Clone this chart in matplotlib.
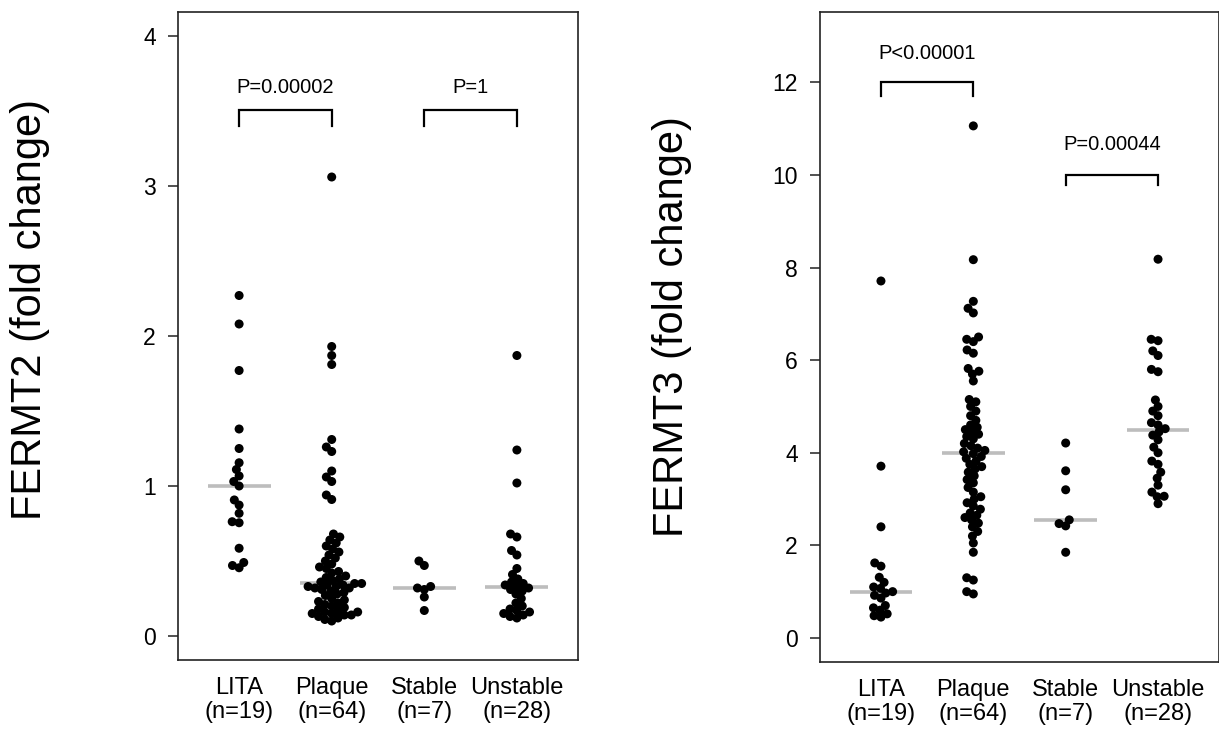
import numpy as np
import matplotlib.pyplot as plt

plt.rcParams['font.family'] = ['Liberation Sans', 'DejaVu Sans']

groups = ['LITA', 'Plaque', 'Stable', 'Unstable']
group_n = [19, 64, 7, 28]

# FERMT2 fold change per group
fermt2_lita = [2.27, 2.08, 1.77, 1.38, 1.25, 1.155, 1.11, 1.067, 1.03, 1.0,
               0.907, 0.873, 0.818, 0.762, 0.755, 0.585, 0.49, 0.47, 0.455]
fermt2_plaque = [3.06, 1.93, 1.87, 1.81, 1.31, 1.26, 1.23, 1.10, 1.06, 1.03, 0.94, 0.91,
                 0.68, 0.66, 0.64, 0.62, 0.60, 0.58, 0.56, 0.54, 0.52, 0.50,
                 0.48, 0.46, 0.45, 0.43, 0.42, 0.40, 0.39, 0.38, 0.37, 0.36,
                 0.35, 0.35, 0.34, 0.34, 0.33, 0.33, 0.32, 0.32, 0.31, 0.30,
                 0.29, 0.28, 0.27, 0.25, 0.24, 0.23, 0.22, 0.21, 0.20, 0.19,
                 0.18, 0.17, 0.16, 0.16, 0.15, 0.15, 0.14, 0.14, 0.13, 0.12, 0.11, 0.10]
fermt2_stable = [0.50, 0.47, 0.33, 0.32, 0.31, 0.26, 0.17]
fermt2_unstable = [1.87, 1.24, 1.02, 0.68, 0.66, 0.57, 0.54, 0.45, 0.41, 0.38, 0.36, 0.35, 0.34, 0.33,
                   0.32, 0.31, 0.30, 0.28, 0.25, 0.22, 0.20, 0.18, 0.17, 0.16, 0.15, 0.14, 0.13, 0.12]

# FERMT3 fold change per group
fermt3_lita = [7.71, 3.71, 2.40, 1.62, 1.55, 1.31, 1.20, 1.10, 1.07, 1.00,
               0.97, 0.92, 0.86, 0.70, 0.65, 0.60, 0.52, 0.48, 0.45]
fermt3_plaque = [11.06, 8.17, 7.27, 7.12, 7.02, 6.50, 6.45, 6.40, 6.22, 6.15, 5.82, 5.76, 5.70, 5.55,
                 5.15, 5.10, 5.00, 4.90, 4.80, 4.70, 4.60, 4.55, 4.50, 4.45, 4.40, 4.35, 4.30, 4.20,
                 4.15, 4.10, 4.05, 4.02,
                 3.98, 3.92, 3.88, 3.82, 3.75, 3.70, 3.65, 3.58, 3.50, 3.42, 3.35, 3.25, 3.15, 3.05,
                 3.00, 2.92, 2.85, 2.78, 2.70, 2.65, 2.60, 2.55, 2.48, 2.40, 2.30, 2.20, 2.05, 1.85,
                 1.30, 1.25, 1.00, 0.95]
fermt3_stable = [4.21, 3.61, 3.20, 2.55, 2.47, 2.42, 1.85]
fermt3_unstable = [8.18, 6.45, 6.42, 6.20, 6.10, 5.80, 5.75, 5.14, 5.00, 4.90, 4.80, 4.65, 4.60, 4.52,
                   4.45, 4.38, 4.28, 4.12, 4.00, 3.82, 3.75, 3.58, 3.45, 3.30, 3.15, 3.06, 3.05, 2.90]

fermt2_pvals = ['P=0.00002', 'P=1']
fermt3_pvals = ['P<0.00001', 'P=0.00044']

DOT_PX = 9.0    # drawn dot diameter
GAP_PX = 7.0    # spacing used by the swarm (dots may overlap a little)


def swarm_offsets(y_px, diam):
    """Place points bottom-up, each at the smallest sideways shift that avoids overlap."""
    xs = np.zeros(len(y_px))
    done = []
    for i in np.argsort(y_px, kind='stable'):
        y = y_px[i]
        cands = [0.0]
        for px, py in done:
            dy = abs(y - py)
            if dy < diam:
                dx = np.sqrt(diam ** 2 - dy ** 2)
                cands += [px - dx, px + dx]
        cands.sort(key=lambda c: (abs(c), c))
        for c in cands:
            if all((c - px) ** 2 + (y - py) ** 2 >= diam ** 2 - 1e-6 for px, py in done):
                break
        xs[i] = c
        done.append((c, y))
    return xs


def draw_panel(ax, data, ymax, yticks, brackets):
    ax.set_xlim(0.34, 4.66)
    ax.set_ylim(-0.04 * ymax, 1.04 * ymax)

    # pixel scale of the axes, used to lay out the swarm
    x0, y0 = ax.transData.transform((0, 0))
    x1, y1 = ax.transData.transform((1, 1))
    sx, sy = x1 - x0, y1 - y0

    for i, vals in enumerate(data):
        vals = np.asarray(vals, dtype=float)
        off = swarm_offsets(vals * sy, GAP_PX) / sx
        ax.scatter(i + 1 + off, vals, s=(DOT_PX * 0.72) ** 2, color='black',
                   edgecolors='none', zorder=3)
        med = np.median(vals)
        ax.plot([i + 1 - 0.34, i + 1 + 0.34], [med, med], color='#bdbdbd',
                lw=2.6, solid_capstyle='butt', zorder=2)

    for (g1, g2, ytop, ylow, ytxt, label) in brackets:
        ax.plot([g1, g1, g2, g2], [ylow, ytop, ytop, ylow], color='black', lw=1.6,
                solid_joinstyle='miter', zorder=3)
        ax.text((g1 + g2) / 2, ytxt, label, ha='center', va='baseline', fontsize=14.5)

    ax.set_yticks(yticks)
    ax.set_yticklabels([str(t) for t in yticks])
    ax.set_xticks([1, 2, 3, 4])
    ax.set_xticklabels([f'{g}\n(n={n})' for g, n in zip(groups, group_n)],
                       linespacing=1.15)
    ax.tick_params(axis='y', direction='out', length=7, width=1.1, labelsize=16.5,
                   pad=9, color='#222222')
    ax.tick_params(axis='x', length=0, labelsize=17, pad=12)
    for sp in ax.spines.values():
        sp.set_linewidth(1.2)
        sp.set_color('#222222')


fig = plt.figure(figsize=(12.19, 7.29), dpi=100)
ax1 = fig.add_axes([178 / 1219, 69 / 729, 400 / 1219, 648 / 729])
ax2 = fig.add_axes([820 / 1219, 67 / 729, 399 / 1219, 650 / 729])

draw_panel(ax1, [fermt2_lita, fermt2_plaque, fermt2_stable, fermt2_unstable],
           4, [0, 1, 2, 3, 4],
           [(1, 2, 3.51, 3.40, 3.62, fermt2_pvals[0]),
            (3, 4, 3.51, 3.40, 3.62, fermt2_pvals[1])])
draw_panel(ax2, [fermt3_lita, fermt3_plaque, fermt3_stable, fermt3_unstable],
           13, [0, 2, 4, 6, 8, 10, 12],
           [(1, 2, 12.0, 11.7, 12.5, fermt3_pvals[0]),
            (3, 4, 10.0, 9.78, 10.54, fermt3_pvals[1])])

fig.text(30 / 1219, 1 - 310 / 729, 'FERMT2 (fold change)', rotation=90,
         ha='center', va='center', fontsize=30)
fig.text(672 / 1219, 1 - 327 / 729, 'FERMT3 (fold change)', rotation=90,
         ha='center', va='center', fontsize=30)

fig.savefig('out.png', dpi=100)
